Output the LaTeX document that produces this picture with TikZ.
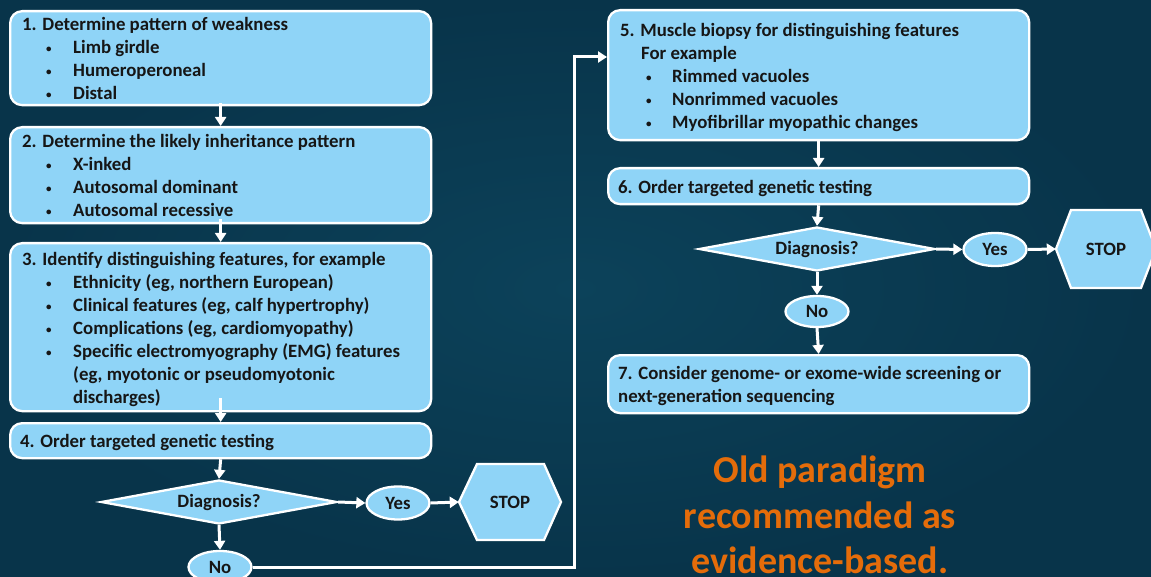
\documentclass[tikz,border=0pt]{standalone}
\usepackage{fontspec}
\setmainfont{Carlito}
\usetikzlibrary{shapes.geometric,arrows.meta,calc}
\definecolor{bgin}{RGB}{12,66,90}
\definecolor{bgout}{RGB}{8,52,74}
\definecolor{boxblue}{RGB}{143,212,247}
\definecolor{txt}{RGB}{22,22,22}
\definecolor{orangetxt}{RGB}{228,108,10}
\newcommand{\dotmark}{\raisebox{0.9pt}{\fontsize{11}{11}\selectfont •}}
\newcommand{\bul}{\hspace*{24pt}\makebox[27pt][l]{\dotmark}}
\newcommand{\bulr}{\hspace*{26pt}\makebox[26pt][l]{\dotmark}}
\begin{document}
\begin{tikzpicture}[x=1pt,y=-1pt,
  boxshape/.style={draw=white,line width=2.3pt,fill=boxblue,rounded corners=12pt,
    minimum width=421pt,anchor=north west,inner sep=0pt},
  boxtext/.style={anchor=north west,inner sep=0pt,align=left,text=txt,
    font=\fontsize{18.8}{23}\selectfont\bfseries},
  decide/.style={diamond,aspect=5.4,draw=white,line width=2.3pt,fill=boxblue,inner sep=0pt,
    minimum width=236pt,minimum height=44pt,text=txt,font=\fontsize{18.8}{20}\selectfont\bfseries},
  oval/.style={ellipse,draw=white,line width=2.3pt,fill=boxblue,inner sep=0pt,
    minimum width=63pt,minimum height=33pt,text=txt,font=\fontsize{18.8}{20}\selectfont\bfseries},
  hexfill/.style={draw=white,line width=2.3pt,fill=boxblue,line join=miter},
  stoptext/.style={inner sep=0pt,minimum width=102pt,minimum height=76pt,text=txt,
    font=\fontsize{18.8}{20}\selectfont\bfseries},
  conn/.style={draw=white,line width=3pt,-{Triangle[width=11pt,length=9pt]}},
  plainconn/.style={draw=white,line width=3pt}
]
\useasboundingbox (0,0) rectangle (1151,577);
\shade[inner color=bgin,outer color=bgout] (0,0) rectangle (1151,577);

% ---------- left column ----------
\node[boxshape,minimum height=94pt] (b1) at (9,10) {};
\node[boxtext] (t1) at (22,17) {1. Determine pattern of weakness\\
\bul Limb girdle\\ \bul Humeroperoneal\\ \bul Distal};

\node[boxshape,minimum height=96pt] (b2) at (9,126) {};
\node[boxtext] (t2) at (22,134) {2. Determine the likely inheritance pattern\\
\bul X-inked\\ \bul Autosomal dominant\\ \bul Autosomal recessive};

\node[boxshape,minimum height=168pt] (b3) at (9,242) {};
\node[boxtext] (t3) at (22,252) {3. Identify distinguishing features, for example\\
\bul Ethnicity (eg, northern European)\\
\bul Clinical features (eg, calf hypertrophy)\\
\bul Complications (eg, cardiomyopathy)\\
\bul Specific electromyography (EMG) features\\
\hspace*{51pt}(eg, myotonic or pseudomyotonic\\
\hspace*{51pt}discharges)};

\node[boxshape,minimum height=35pt] (b4) at (9,422) {};
\node[boxtext] (t4) at (20,434) {4. Order targeted genetic testing};

\node[decide] (d1) at (219,502) {Diagnosis?};
\node[oval] (y1) at (398,503) {Yes};
\path[hexfill] (459,502) -- (477,464) -- (544,464) -- (561,502) -- (544,540) -- (477,540) -- cycle;
\node[stoptext] (s1) at (510,502) {STOP};
\node[oval,minimum height=32pt] (n1) at (220,567) {No};

% ---------- right column ----------
\node[boxshape,minimum height=130pt] (b5) at (607,9) {};
\node[boxtext] (t5) at (620,23) {5. Muscle biopsy for distinguishing features\\
\hspace*{21pt}For example\\
\bulr Rimmed vacuoles\\ \bulr Nonrimmed vacuoles\\ \bulr Myofibrillar myopathic changes};

\node[boxshape,minimum height=36pt] (b6) at (607,167) {};
\node[boxtext] (t6) at (618,180) {6. Order targeted genetic testing};

\node[decide] (d2) at (817,249) {Diagnosis?};
\node[oval] (y2) at (995,249.5) {Yes};
\path[hexfill] (1056,249) -- (1071,210) -- (1141,210) -- (1156,249) -- (1141,288) -- (1071,288) -- cycle;
\node[stoptext,minimum width=100pt,minimum height=78pt] (s2) at (1106,249) {STOP};
\node[oval,minimum height=31pt] (n2) at (817,311.5) {No};

\node[boxshape,minimum height=58pt] (b7) at (607,354) {};
\node[boxtext] (t7) at (618,366) {7. Consider genome- or exome-wide screening or\\
next-generation sequencing};

\node[text=orangetxt,align=center,inner sep=0pt,
  font=\fontsize{38}{45.5}\selectfont\bfseries] (note) at (820,515)
  {Old paradigm\\ recommended as\\ evidence-based.};

% ---------- connectors ----------
\draw[conn] ($(b1.south)+(0,-3)$) -- (b2.north);
\draw[conn] ($(b2.south)+(0,-5)$) -- (b3.north);
\draw[conn] ($(b3.south)+(0,-14)$) -- (b4.north);
\draw[conn] (b4.south) -- (d1.north);
\draw[conn] (d1.east) -- (y1.west);
\draw[conn] (y1.east) -- (s1.west);
\draw[conn] (d1.south) -- (n1.north);
\coordinate (k1) at (574.5,57);
\draw[plainconn] (n1.east) -| (k1);
\draw[conn] ($(k1)+(0,1.5)$) |- (k1 -| b5.west);

\draw[conn] (b5.south) -- (b6.north);
\draw[conn] (b6.south) -- (d2.north);
\draw[conn] (d2.east) -- (y2.west);
\draw[conn] (y2.east) -- (s2.west);
\draw[conn] (d2.south) -- (n2.north);
\draw[conn] (n2.south) -- (b7.north);
\end{tikzpicture}
\end{document}
